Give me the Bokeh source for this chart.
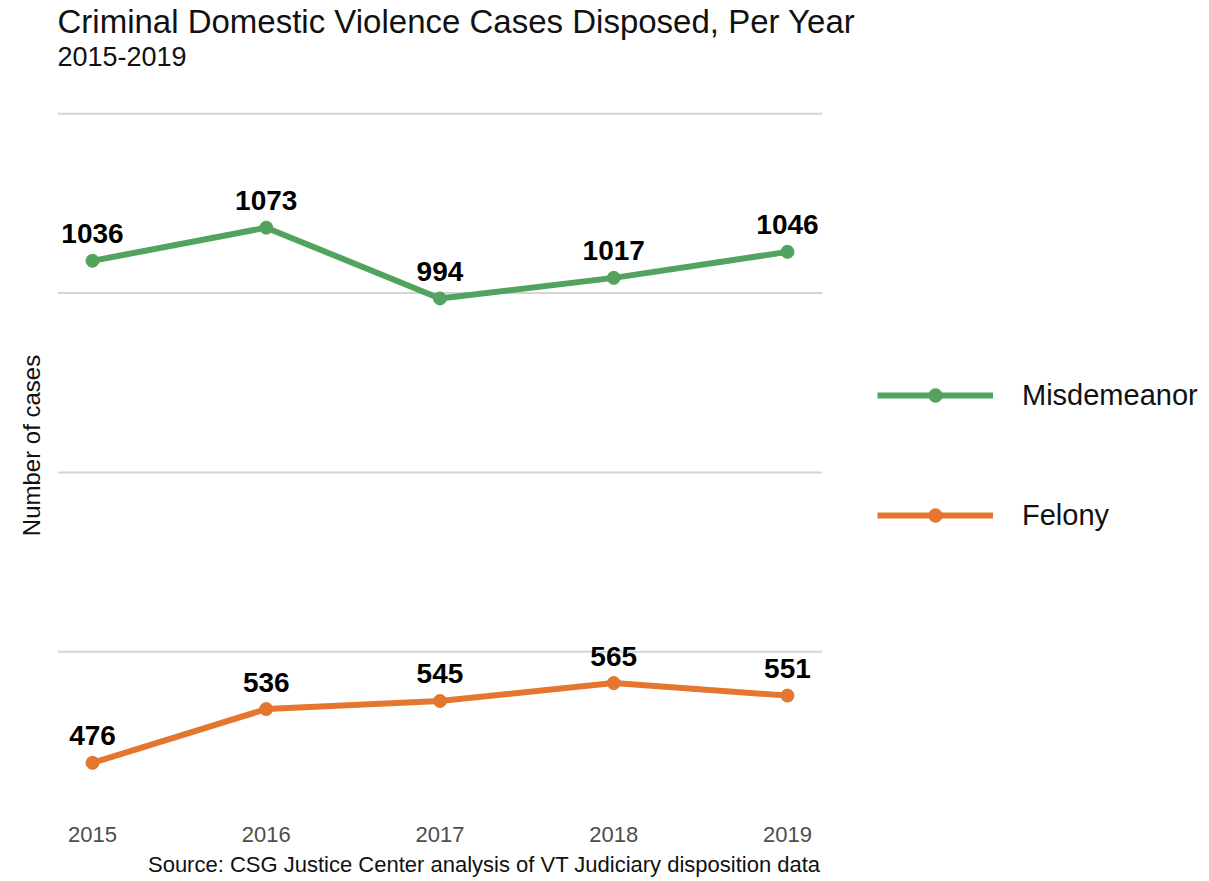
from bokeh.plotting import figure
from bokeh.models import ColumnDataSource, Range1d, Legend, LegendItem, Title, FixedTicker
from bokeh.embed import file_html
from bokeh.resources import INLINE
from bokeh.core.properties import value

years = [2015, 2016, 2017, 2018, 2019]
misdemeanor = [1036, 1073, 994, 1017, 1046]
felony = [476, 536, 545, 565, 551]
grid_values = [600, 800, 1000, 1200]

GREEN = "#52A35E"
ORANGE = "#E4762F"
FONT = "Liberation Sans"

X0, X1 = 2014.8, 2019.2

p = figure(width=1209, height=881, output_backend="svg", toolbar_location=None,
           x_range=Range1d(2014.7986, 2021.429), y_range=Range1d(411.7, 1248.3),
           min_border_left=57, min_border_right=0, min_border_top=66, min_border_bottom=56)
p.outline_line_color = None
p.background_fill_color = "white"

# titles
p.title.visible = False
sub = Title(text="2015-2019", text_font=FONT, text_font_size="27px", text_font_style="normal",
            text_color="#111111")
ttl = Title(text="Criminal Domestic Violence Cases Disposed, Per Year", text_font=FONT,
            text_font_size="33px", text_font_style="normal", text_color="#111111")
ttl.standoff = 0
p.add_layout(sub, "above")
p.add_layout(ttl, "above")

# axes
p.yaxis.ticker = FixedTicker(ticks=[])
p.yaxis.major_tick_line_color = None
p.yaxis.minor_tick_line_color = None
p.yaxis.axis_line_color = None
p.yaxis.axis_label = "Number of cases"
p.yaxis.axis_label_text_font = FONT
p.yaxis.axis_label_text_font_size = "24px"
p.yaxis.axis_label_text_font_style = "normal"
p.yaxis.axis_label_text_color = "#111111"
p.yaxis.axis_label_standoff = 13

p.xaxis.ticker = FixedTicker(ticks=years)
p.xaxis.major_label_text_font = FONT
p.xaxis.major_label_text_font_size = "22px"
p.xaxis.major_label_text_color = "#4D4D4D"
p.xaxis.major_tick_line_color = None
p.xaxis.minor_tick_line_color = None
p.xaxis.axis_line_color = None
p.xaxis.major_label_standoff = 0

p.xgrid.grid_line_color = None
p.ygrid.grid_line_color = None

# horizontal grid lines over the panel width only
p.segment(x0=[X0] * len(grid_values), x1=[X1] * len(grid_values), y0=grid_values, y1=grid_values,
          line_color="#D4D4D4", line_width=2)

src_m = ColumnDataSource(dict(x=years, y=misdemeanor, t=[str(v) for v in misdemeanor]))
src_f = ColumnDataSource(dict(x=years, y=felony, t=[str(v) for v in felony]))

lm = p.line("x", "y", source=src_m, line_color=GREEN, line_width=6)
sm = p.scatter("x", "y", source=src_m, color=GREEN, size=13)
lf = p.line("x", "y", source=src_f, line_color=ORANGE, line_width=6)
sf = p.scatter("x", "y", source=src_f, color=ORANGE, size=13)

for s in (src_m, src_f):
    p.text("x", "y", text="t", source=s, text_font=value(FONT), text_font_style="bold",
           text_font_size="28px", text_align="center", text_baseline="alphabetic",
           y_offset=-27, text_color="#000000")

legend = Legend(items=[LegendItem(label="Misdemeanor", renderers=[lm, sm]),
                       LegendItem(label="Felony", renderers=[lf, sf])],
                location=(820, 288), orientation="vertical",
                glyph_width=116, glyph_height=34, label_height=34, label_standoff=29,
                spacing=86, padding=0, margin=0, border_line_color=None,
                background_fill_alpha=0, label_text_font=FONT, label_text_font_size="29px",
                label_text_color="#111111", label_text_baseline="middle")
p.add_layout(legend, "center")

cap = Title(text="Source: CSG Justice Center analysis of VT Judiciary disposition data",
            text_font=FONT, text_font_size="22px", text_font_style="normal",
            text_color="#111111", align="right", offset=389)
p.add_layout(cap, "below")

open("out.html", "w").write(file_html(p, INLINE))
